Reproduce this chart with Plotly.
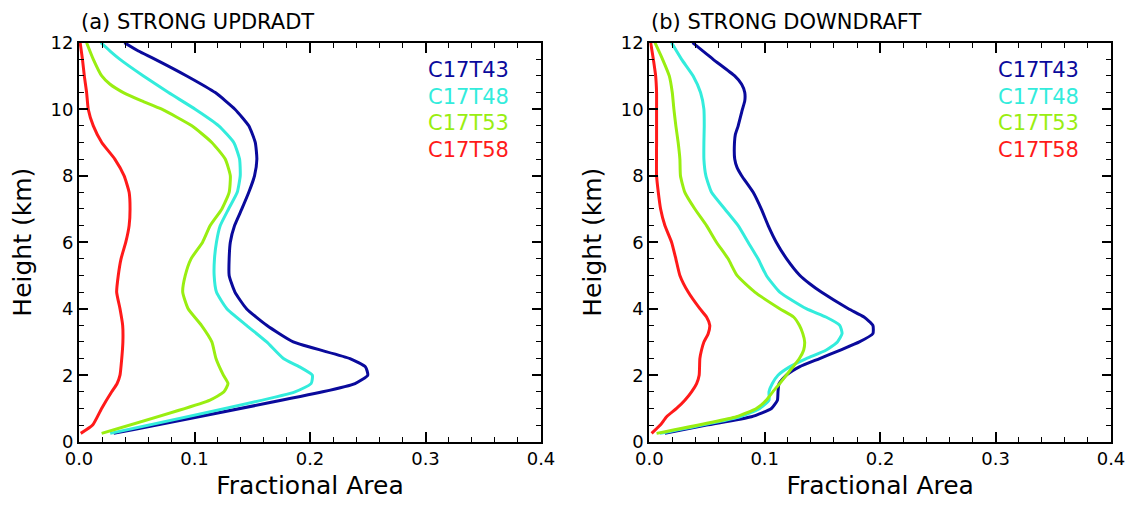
import plotly.graph_objects as go

series_names = ["C17T43", "C17T48", "C17T53", "C17T58"]
series_colors = ["#0a0a9c", "#33ecdc", "#99ee11", "#ff1a1a"]

# ---- (a) STRONG UPDRADT ----
up_h_43 = [12, 11.75, 11.5, 11, 10.5, 10, 9.5, 9, 8.5, 8, 7.5, 7, 6.5, 6, 5.5, 5, 4.5, 4, 3.5, 3, 2.5, 2.25, 2, 1.75, 1.5, 0.25]
up_x_43 = [0.0393, 0.0514, 0.066, 0.0933, 0.118, 0.135, 0.147, 0.1526, 0.154, 0.152, 0.147, 0.141, 0.1347, 0.131, 0.130, 0.130, 0.135, 0.145, 0.1625, 0.1855, 0.2346, 0.248, 0.250, 0.239, 0.211, 0.030]

up_h_48 = [12, 11.75, 11.5, 11, 10.5, 10, 9.5, 9, 8.5, 8, 7.5, 7, 6.5, 6, 5.5, 5, 4.5, 4, 3.5, 3, 2.5, 2.25, 2, 1.75, 1.5, 0.25]
up_x_48 = [0.019, 0.0269, 0.0355, 0.0558, 0.0775, 0.1006, 0.121, 0.134, 0.139, 0.1396, 0.137, 0.1295, 0.1223, 0.119, 0.1173, 0.117, 0.119, 0.128, 0.145, 0.1625, 0.177, 0.191, 0.202, 0.201, 0.187, 0.027]

up_h_53 = [12, 11.5, 11, 10.75, 10.5, 10.25, 10, 9.5, 9, 8.5, 8, 7.5, 7, 6.5, 6, 5.5, 5, 4.5, 4, 3.5, 3, 2.5, 2, 1.75, 1.5, 1.25, 0.25]
up_x_53 = [0.0066, 0.0124, 0.0197, 0.0269, 0.0384, 0.0543, 0.0717, 0.0977, 0.115, 0.1266, 0.131, 0.130, 0.1237, 0.1136, 0.107, 0.097, 0.092, 0.0898, 0.0945, 0.106, 0.115, 0.1186, 0.125, 0.129, 0.1255, 0.1134, 0.0196]

up_h_58 = [12, 11.5, 11, 10.5, 10, 9.5, 9, 8.5, 8, 7.5, 7, 6.5, 6, 5.5, 5, 4.5, 4, 3.5, 3, 2.5, 2, 1.75, 1.5, 1, 0.5, 0.25]
up_x_58 = [0.001, 0.003, 0.0046, 0.0066, 0.008, 0.0124, 0.0197, 0.031, 0.039, 0.0434, 0.0442, 0.0434, 0.0405, 0.0364, 0.034, 0.0326, 0.0355, 0.0378, 0.038, 0.037, 0.0355, 0.033, 0.0283, 0.0196, 0.0118, 0.0015]

# ---- (b) STRONG DOWNDRAFT ----
dn_h_43 = [12, 11.5, 11, 10.75, 10.5, 10.25, 10, 9.5, 9.25, 9, 8.5, 8.25, 8, 7.5, 7, 6.5, 6, 5.5, 5, 4.75, 4.5, 4, 3.75, 3.5, 3.25, 3, 2.75, 2.5, 2.25, 2, 1.75, 1.5, 1.25, 1, 0.75, 0.5, 0.25]
dn_x_43 = [0.0375, 0.0553, 0.074, 0.080, 0.0827, 0.0827, 0.0807, 0.077, 0.0746, 0.0738, 0.074, 0.076, 0.080, 0.090, 0.097, 0.103, 0.110, 0.119, 0.1305, 0.139, 0.149, 0.1725, 0.186, 0.1937, 0.1937, 0.182, 0.165, 0.1476, 0.130, 0.1187, 0.1124, 0.1115, 0.111, 0.1058, 0.0885, 0.0496, 0.0135]

dn_h_48 = [12, 11.5, 11, 10.5, 10, 9.5, 9, 8.5, 8, 7.5, 7, 6.5, 6, 5.5, 5, 4.5, 4, 3.75, 3.5, 3.25, 3, 2.75, 2.5, 2.25, 2, 1.75, 1.5, 1.25, 1, 0.75, 0.25]
dn_x_48 = [0.0193, 0.028, 0.038, 0.0444, 0.0473, 0.0476, 0.0473, 0.0473, 0.049, 0.0539, 0.0654, 0.077, 0.0856, 0.0942, 0.1014, 0.113, 0.136, 0.153, 0.165, 0.167, 0.163, 0.153, 0.136, 0.1216, 0.1115, 0.1066, 0.1037, 0.1037, 0.0957, 0.0784, 0.0092]

dn_h_53 = [12, 11.5, 11, 10.5, 10, 9.5, 9, 8.5, 8, 7.5, 7, 6.5, 6, 5.5, 5, 4.5, 4, 3.75, 3.5, 3.25, 3, 2.75, 2.5, 2.25, 2, 1.75, 1.5, 1.25, 1, 0.75, 0.25]
dn_x_53 = [0.0049, 0.0115, 0.0173, 0.0199, 0.0213, 0.023, 0.025, 0.0265, 0.027, 0.0308, 0.0395, 0.0496, 0.0582, 0.0683, 0.076, 0.0914, 0.113, 0.125, 0.130, 0.133, 0.1346, 0.1337, 0.130, 0.1245, 0.1187, 0.113, 0.107, 0.1014, 0.0928, 0.0755, 0.0063]

dn_h_58 = [12, 11.5, 11, 10.5, 10, 9, 8, 7.5, 7, 6.5, 6, 5.5, 5, 4.5, 4, 3.75, 3.5, 3.25, 3, 2.75, 2.5, 2, 1.75, 1.5, 1.25, 1, 0.75, 0.5, 0.25]
dn_x_58 = [0.0012, 0.0035, 0.0055, 0.0063, 0.0063, 0.0063, 0.0063, 0.0078, 0.0098, 0.0135, 0.0193, 0.023, 0.0265, 0.0337, 0.0438, 0.0496, 0.0524, 0.051, 0.0473, 0.0452, 0.0438, 0.0432, 0.041, 0.0366, 0.0308, 0.0236, 0.015, 0.0095, 0.002]

panel_titles = ["(a) STRONG UPDRADT", "(b) STRONG DOWNDRAFT"]
x_title = "Fractional Area"
y_title = "Height (km)"
x_tickvals = [0.0, 0.1, 0.2, 0.3, 0.4]
y_tickvals = [0, 2, 4, 6, 8, 10, 12]

W, H = 1134, 508
FONT = "DejaVu Sans"

up_sets = [(up_x_43, up_h_43), (up_x_48, up_h_48), (up_x_53, up_h_53), (up_x_58, up_h_58)]
dn_sets = [(dn_x_43, dn_h_43), (dn_x_48, dn_h_48), (dn_x_53, dn_h_53), (dn_x_58, dn_h_58)]

fig = go.Figure()
for (xs, hs), name, col in zip(up_sets, series_names, series_colors):
    fig.add_trace(go.Scatter(x=xs, y=hs, mode="lines", name=name, xaxis="x", yaxis="y",
                             line=dict(color=col, width=3, shape="spline", smoothing=0.5),
                             showlegend=False))
for (xs, hs), name, col in zip(dn_sets, series_names, series_colors):
    fig.add_trace(go.Scatter(x=xs, y=hs, mode="lines", name=name, xaxis="x2", yaxis="y2",
                             line=dict(color=col, width=3, shape="spline", smoothing=0.5),
                             showlegend=False))

x_dom1 = [79 / W, 541 / W]
x_dom2 = [649.3 / W, 1111 / W]
y_dom = [1 - 441.7 / H, 1 - 42.7 / H]

def xaxis(domain, anchor):
    return dict(domain=domain, anchor=anchor, range=[0, 0.4], tickvals=x_tickvals,
                tickformat=".1f", ticks="inside", ticklen=10, tickwidth=1.5, tickcolor="black",
                showline=True, linecolor="black", linewidth=2, mirror="allticks",
                showgrid=False, zeroline=False, automargin=False,
                tickfont=dict(family=FONT, size=18, color="black"),
                minor=dict(dtick=0.02, ticks="inside", ticklen=5, tickwidth=1.2, tickcolor="black", showgrid=False),
                title=dict(text=x_title, font=dict(family=FONT, size=25, color="black"), standoff=8))

def yaxis(domain, anchor):
    return dict(domain=domain, anchor=anchor, range=[0, 12], tickvals=y_tickvals,
                ticks="inside", ticklen=9, tickwidth=1.5, tickcolor="black",
                showline=True, linecolor="black", linewidth=2, mirror="allticks",
                showgrid=False, zeroline=False, automargin=False,
                tickfont=dict(family=FONT, size=18, color="black"),
                minor=dict(dtick=0.5, ticks="inside", ticklen=5, tickwidth=1.2, tickcolor="black", showgrid=False),
                title=dict(text=y_title, font=dict(family=FONT, size=25, color="black"), standoff=12))

annotations = []
for i, (t, dom) in enumerate(zip(panel_titles, [x_dom1, x_dom2])):
    annotations.append(dict(text=t, xref="paper", yref="paper", x=dom[0] + 0 / W, y=1 - 22 / H,
                            xanchor="left", yanchor="middle", showarrow=False,
                            font=dict(family=FONT, size=21, color="black")))
    xr = "x domain" if i == 0 else "x2 domain"
    yr = "y domain" if i == 0 else "y2 domain"
    for j, (name, col) in enumerate(zip(series_names, series_colors)):
        annotations.append(dict(text=name, xref=xr, yref=yr, x=0.935, y=1 - (27.5 + 26.5 * j) / 399,
                                xanchor="right", yanchor="middle", showarrow=False,
                                font=dict(family=FONT, size=21, color=col)))

fig.update_layout(
    width=W, height=H,
    margin=dict(l=0, r=0, t=0, b=0),
    paper_bgcolor="white", plot_bgcolor="white",
    xaxis=xaxis(x_dom1, "y"), yaxis=yaxis(y_dom, "x"),
    xaxis2=xaxis(x_dom2, "y2"), yaxis2=yaxis(y_dom, "x2"),
    annotations=annotations,
    showlegend=False,
)

fig.write_html("out.html", config={"displayModeBar": False},
               post_script="document.body.style.margin='0';")
